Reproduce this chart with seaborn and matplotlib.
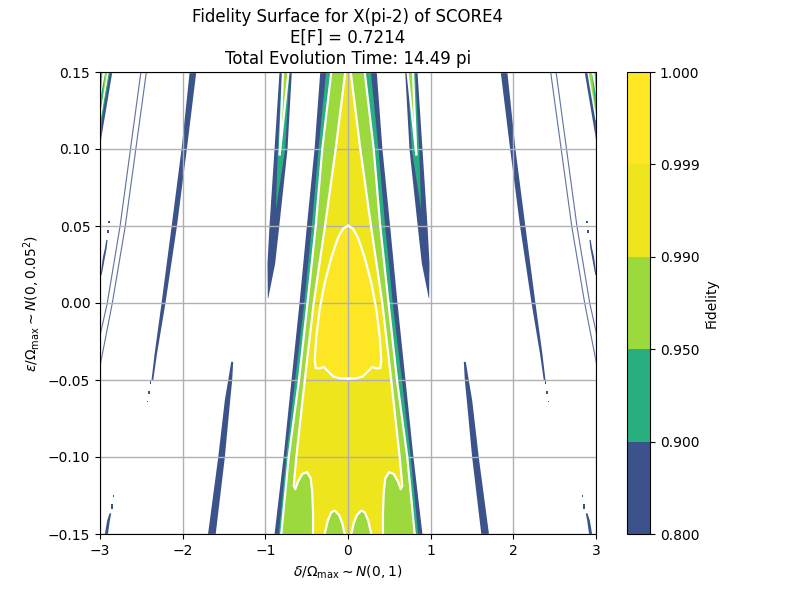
import matplotlib
matplotlib.use("Agg")
import matplotlib.pyplot as plt
from matplotlib.cm import ScalarMappable
from matplotlib.colors import BoundaryNorm, ListedColormap
import numpy as np
import pandas as pd
import seaborn as sns

levels = [0.8, 0.9, 0.95, 0.99, 0.999, 1.0]
tick_labels = ["0.800", "0.900", "0.950", "0.990", "0.999", "1.000"]

# central lobe, half widths in delta read per epsilon row
eps_rows = [0.15, 0.10, 0.05, 0.0, -0.05, -0.10, -0.15]
centre_080 = [0.342, 0.411, 0.504, 0.593, 0.690, 0.786, 0.895]
centre_090 = [0.272, 0.363, 0.444, 0.536, 0.647, 0.754, 0.843]
centre_095 = [0.202, 0.311, 0.390, 0.490, 0.593, 0.717, 0.807]

# 0.99 contour, top to bottom on the positive delta side
c099_delta = [0.033, 0.149, 0.278, 0.415, 0.523, 0.625, 0.657, 0.637, 0.605, 0.553, 0.496, 0.451,
              0.432, 0.423, 0.423]
c099_eps = [0.15, 0.10, 0.05, 0.0, -0.05, -0.10, -0.1188, -0.1209, -0.116, -0.111, -0.1099, -0.1138,
            -0.1235, -0.1365, -0.15]
lobe_delta = [0.282, 0.242, 0.202, 0.161, 0.109, 0.069, 0.040]
lobe_eps = [-0.15, -0.1409, -0.1359, -0.1348, -0.1376, -0.143, -0.15]

# 0.999 contour
c0999_delta = [0.0, 0.06, 0.121, 0.202, 0.282, 0.343, 0.383, 0.403, 0.391, 0.343, 0.294, 0.242,
               0.181, 0.101, 0.0]
c0999_eps = [0.0502, 0.0483, 0.0424, 0.0294, 0.0131, -0.0042, -0.0216, -0.0368, -0.0422, -0.0426,
             -0.0415, -0.0444, -0.0476, -0.0489, -0.0491]

# side band near |delta| = 0.9
a_eps = [0.15, 0.10, 0.05, 0.026, 0.0034]
a_outer = [0.835, 0.895, 0.956, 0.980, 0.976]
a_inner = [0.686, 0.738, 0.838, 0.887, 0.971]
a_teal_eps = [0.15, 0.10, 0.0608]
a_teal_outer = [0.807, 0.855, 0.879]
a_teal_inner = [0.714, 0.766, 0.879]
a_green_eps = [0.15, 0.0966]
a_green_outer = [0.786, 0.826]
a_green_inner = [0.720, 0.826]

# band near |delta| = 1.5
b_eps = [-0.15, -0.0999, -0.0628, -0.0498, -0.0379]
b_outer = [1.70, 1.576, 1.496, 1.455, 1.419]
b_inner = [1.607, 1.496, 1.431, 1.407, 1.395]

# band near |delta| = 2.1
c_eps = [0.15, 0.10, 0.05, 0.0, -0.0325, -0.0498]
c_outer = [1.922, 2.02, 2.14, 2.262, 2.345, 2.383]
c_inner = [1.842, 1.956, 2.076, 2.215, 2.316, 2.362]

# thin pair of lines near |delta| = 2.7
d1_eps = [0.15, 0.05, 0.0, -0.0195]
d1_delta = [2.512, 2.764, 2.919, 3.0]
d2_eps = [0.15, 0.05, 0.0, -0.039]
d2_delta = [2.446, 2.701, 2.858, 3.0]

# corner wedge at |delta| = 3
e_eps = [0.15, 0.1044]
e_inner = [2.858, 3.0]
e_teal_eps = [0.15, 0.1142]
e_teal_inner = [2.886, 3.0]
e_gap_eps = [0.15, 0.134]
e_gap_delta = [2.976, 3.0]
e_green_eps = [0.15, 0.1194]
e_green_outer = [2.943, 3.0]
e_green_inner = [2.903, 3.0]

# sliver at the left edge, upper
f_eps = [0.0185, 0.0303, 0.0361, 0.0413]
f_outer = [3.0, 2.97, 2.945, 2.93]
f_inner = [2.985, 2.945, 2.925, 2.915]

# sliver at the left edge, lower
g_eps = [-0.15, -0.1409, -0.1363]
g_outer = [2.948, 2.919, 2.891]
g_inner = [2.911, 2.887, 2.87]

# isolated specks: delta, eps low, eps high, width
speck_delta = [2.39, 2.41, 2.425, 2.858, 2.839, 2.907, 2.891]
speck_low = [-0.0526, -0.0590, -0.0645, -0.1335, -0.1257, 0.0455, 0.0520]
speck_high = [-0.0509, -0.0572, -0.0635, -0.1302, -0.1248, 0.0475, 0.0532]
speck_width = [0.02, 0.02, 0.008, 0.024, 0.008, 0.02, 0.018]

viridis = sns.color_palette("viridis", as_cmap=True)
colors = [viridis(0.25), viridis(0.63), viridis(0.85), viridis(0.975), viridis(1.0)]
dark, teal, green, yellow, bright = colors

fig = plt.figure(figsize=(8, 6), dpi=100)
ax = fig.add_axes([0.125, 0.11, 0.62, 0.77])
cax = fig.add_axes([0.784, 0.11, 0.0285, 0.77])


def band(eps, lo, hi, color, alpha=1.0):
    for sign in (-1, 1):
        ax.fill_betweenx(eps, sign * np.array(lo), sign * np.array(hi), color=color, linewidth=0, alpha=alpha)


def contour(delta, eps, width=1.6):
    for sign in (-1, 1):
        df = pd.DataFrame({"delta": sign * np.array(delta), "eps": eps})
        sns.lineplot(data=df, x="delta", y="eps", sort=False, estimator=None, color="white",
                     linewidth=width, ax=ax, legend=False)


# central lobe
zero = [0.0] * len(eps_rows)
band(eps_rows, zero, centre_080, dark)
band(eps_rows, zero, centre_090, teal)
band(eps_rows, zero, centre_095, green)
right_delta = c099_delta + lobe_delta
right_eps = c099_eps + lobe_eps
ax.fill(right_delta + [-d for d in right_delta[::-1]], right_eps + right_eps[::-1], color=yellow, linewidth=0)
ax.fill(c0999_delta + [-d for d in c0999_delta[::-1]], c0999_eps + c0999_eps[::-1], color=bright, linewidth=0)

# side bands
band(a_eps, a_inner, a_outer, dark)
band(a_teal_eps, a_teal_inner, a_teal_outer, teal)
band(a_green_eps, a_green_inner, a_green_outer, green)
band(b_eps, b_inner, b_outer, dark)
band(c_eps, c_inner, c_outer, dark)
band(d1_eps, np.array(d1_delta) - 0.007, np.array(d1_delta) + 0.007, dark, alpha=0.8)
band(d2_eps, np.array(d2_delta) - 0.007, np.array(d2_delta) + 0.007, dark, alpha=0.8)
band(e_eps, e_inner, [3.0, 3.0], dark)
band(e_teal_eps, e_teal_inner, [3.0, 3.0], teal)
band(e_gap_eps, e_green_outer[:1] + [3.0], e_gap_delta, "white")
band(e_green_eps, e_green_inner, e_green_outer, green)
band(f_eps, f_inner, f_outer, dark)
band(g_eps, g_inner, g_outer, dark)
for d, lo, hi, w in zip(speck_delta, speck_low, speck_high, speck_width):
    band([lo, hi], [d - w / 2, d - w / 2], [d + w / 2, d + w / 2], dark)

# white contour lines
contour(centre_095, eps_rows)
contour(c099_delta, c099_eps)
contour(lobe_delta, lobe_eps)
contour(c0999_delta, c0999_eps)
contour(a_green_inner, a_green_eps)
contour(a_green_outer, a_green_eps)
contour(e_green_inner, e_green_eps, width=1.0)

ax.set_xlim(-3, 3)
ax.set_ylim(-0.15, 0.15)
ax.grid(True, linewidth=1.0)
ax.set_xlabel(r"$\delta/\Omega_{\mathrm{max}} \sim N(0,1)$")
ax.set_ylabel(r"$\epsilon/\Omega_{\mathrm{max}} \sim N(0,0.05^2)$")
ax.set_title("Fidelity Surface for X(pi-2) of SCORE4\nE[F] = 0.7214\nTotal Evolution Time: 14.49 pi")

norm = BoundaryNorm(levels, 5)
cbar = fig.colorbar(ScalarMappable(norm=norm, cmap=ListedColormap(colors)), cax=cax, ticks=levels, spacing="uniform")
cbar.ax.set_yticklabels(tick_labels)
cbar.set_label("Fidelity")

fig.savefig("out.png", dpi=100)
